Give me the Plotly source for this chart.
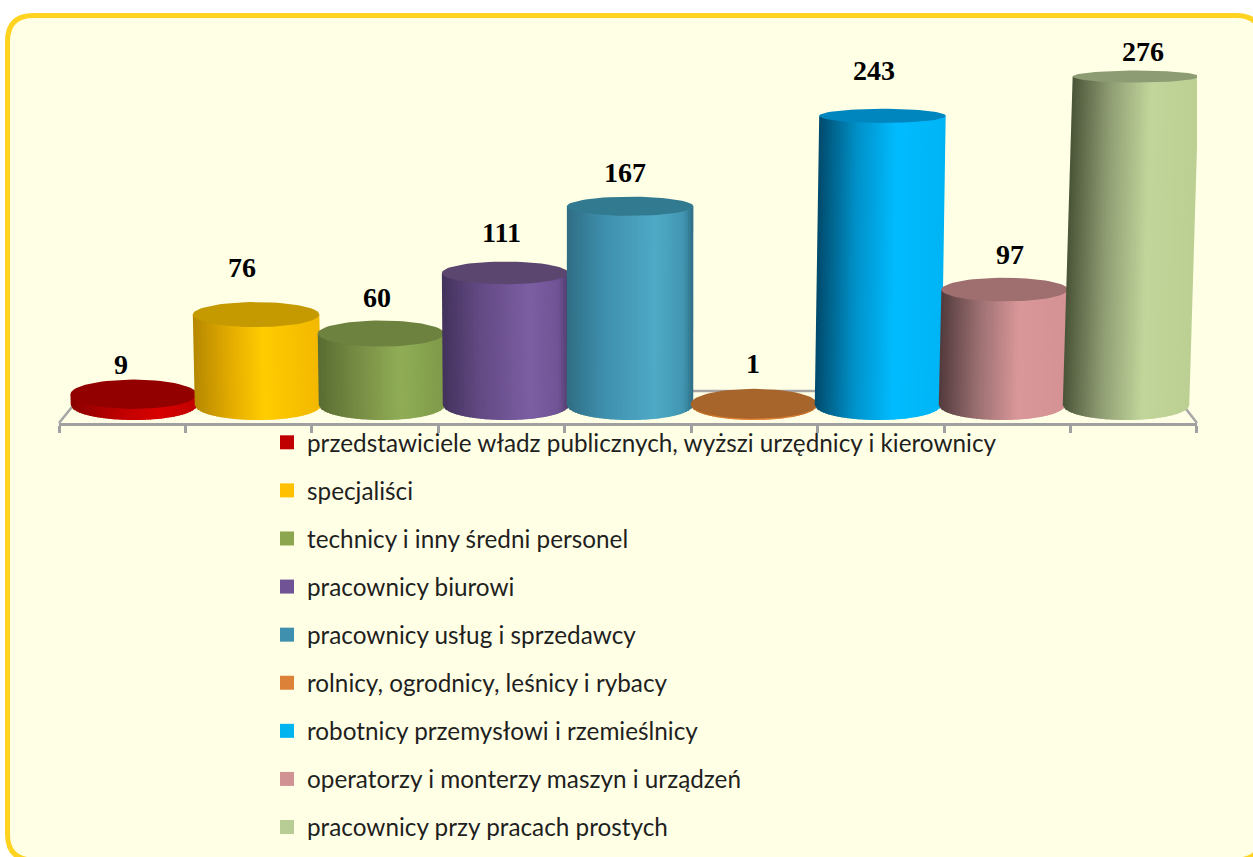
import math
import plotly.graph_objects as go

categories = [
    "przedstawiciele władz publicznych, wyższi urzędnicy i kierownicy",
    "specjaliści",
    "technicy i inny średni personel",
    "pracownicy biurowi",
    "pracownicy usług i sprzedawcy",
    "rolnicy, ogrodnicy, leśnicy i rybacy",
    "robotnicy przemysłowi i rzemieślnicy",
    "operatorzy i monterzy maszyn i urządzeń",
    "pracownicy przy pracach prostych",
]
values = [9, 76, 60, 111, 167, 1, 243, 97, 276]

legend_colors = ["#C00000", "#FFC000", "#8CA64F", "#6F5394", "#3F90AE", "#DB8238", "#00B4F0", "#D19294", "#B8CD96"]
cap_colors = ["#930000", "#C49A00", "#6E8240", "#5B4670", "#327A90", "#A8652B", "#0086BF", "#9F6F70", "#8D9C72"]
# gradient stops (position, colour) across each cylinder
gradients = [
    [(0, "#8A0000"), (.4, "#C00000"), (.7, "#D80000"), (1, "#C00000")],
    [(0, "#B58800"), (.3, "#E5AD00"), (.55, "#FFCC00"), (1, "#F2B800")],
    [(0, "#596C32"), (.35, "#7A9046"), (.65, "#90AD56"), (1, "#7E9A49")],
    [(0, "#43325C"), (.3, "#634A84"), (.7, "#7C5EA3"), (.92, "#6F5394"), (1, "#4F3B6B")],
    [(0, "#2F6D84"), (.3, "#3F90AE"), (.7, "#4EAAC6"), (.92, "#4296B2"), (1, "#2F6D84")],
    [(0, "#C06A20"), (.5, "#E8883A"), (1, "#C87428")],
    [(0, "#004A6B"), (.3, "#0090C8"), (.62, "#00BCFF"), (1, "#00B4F4")],
    [(0, "#523A3C"), (.3, "#9A6F71"), (.62, "#DA9799"), (1, "#D49294")],
    [(0, "#4A5438"), (.3, "#8F9D73"), (.62, "#C1D59A"), (1, "#BCD094")],
]
label_shift = [(-13, 30), (-14, 47), (-4, 36), (-4, 40), (-5, 34), (-1, 40), (-8, 45), (5, 35), (7, 25)]

W, H = 1253, 857
L, R, T, B = 59, 1197, 21, 423
PX_PER_UNIT = 1.19
BAR_STEP = 124
BAR0 = 134
RADIUS = 0.51
STRIPS = 48
BASE_HALF = 15 / PX_PER_UNIT


def x_data(px):
    return (px - BAR0) / BAR_STEP


def px_paper(px, py):
    return (px - L) / (R - L), (B - py) / (B - T)


def hex_rgb(c):
    return [int(c[i:i + 2], 16) for i in (1, 3, 5)]


def shade(stops, u):
    for (p0, c0), (p1, c1) in zip(stops, stops[1:]):
        if u <= p1:
            t = (u - p0) / (p1 - p0)
            a, b = hex_rgb(c0), hex_rgb(c1)
            return "rgb(%d,%d,%d)" % tuple(round(x + (y - x) * t) for x, y in zip(a, b))
    return stops[-1][1]


fig = go.Figure()

for i, (v, stops, cap) in enumerate(zip(values, gradients, cap_colors)):
    lean = 7.08e-5 * (i - 3.92) * v
    top_half = (15 - 9 * v / 276) / PX_PER_UNIT
    for s in range(STRIPS):
        u0, u1 = s / STRIPS, min(1, (s + 1.6) / STRIPS)
        xs, ys = [], []
        for u in (u0, (u0 + u1) / 2, u1):
            xs.append(i + RADIUS * (2 * u - 1))
            ys.append(-BASE_HALF * math.sqrt(max(0, 1 - (2 * u - 1) ** 2)))
        xs += [i + lean + RADIUS * (2 * u1 - 1), i + lean + RADIUS * (2 * u0 - 1), xs[0]]
        ys += [v, v, ys[0]]
        fig.add_trace(go.Scatter(x=xs, y=ys, mode="lines", line=dict(width=0), fill="toself",
                                 fillcolor=shade(stops, (s + 0.5) / STRIPS),
                                 hoverinfo="skip", showlegend=False))
    n = 72
    ang = [2 * math.pi * k / n for k in range(n + 1)]
    fig.add_trace(go.Scatter(x=[i + lean + RADIUS * math.cos(a) for a in ang],
                             y=[v + top_half * math.sin(a) for a in ang],
                             mode="lines", line=dict(width=0), fill="toself", fillcolor=cap,
                             hoverinfo="skip", showlegend=False))
    fig.add_annotation(x=i + lean, y=v, text="<b>%d</b>" % v, showarrow=False,
                       xshift=label_shift[i][0], yshift=label_shift[i][1],
                       font=dict(family="Liberation Serif", size=28, color="#000000"))

for name, color in zip(categories, legend_colors):
    fig.add_trace(go.Scatter(x=[None], y=[None], mode="markers", name=name, legendgroup=name,
                             marker=dict(symbol="square", size=14, color=color)))

# frame
x0, y0, x1, y1, r = 7.5, 15.5, 1262, 860, 26
def P(px, py):
    a, b = px_paper(px, py)
    return "%.5f,%.5f" % (a, b)
frame = ("M" + P(x0 + r, y0) + " L" + P(x1 - r, y0) + " Q" + P(x1, y0) + " " + P(x1, y0 + r) +
         " L" + P(x1, y1 - r) + " Q" + P(x1, y1) + " " + P(x1 - r, y1) +
         " L" + P(x0 + r, y1) + " Q" + P(x0, y1) + " " + P(x0, y1 - r) +
         " L" + P(x0, y0 + r) + " Q" + P(x0, y0) + " " + P(x0 + r, y0) + " Z")
shapes = [dict(type="path", xref="paper", yref="paper", path=frame, fillcolor="#FFFFE6",
               line=dict(color="#FFD320", width=5), layer="below")]
# floor outline
floor = "M" + P(59, 423) + " L" + P(85, 391) + " L" + P(1172, 391) + " L" + P(1197, 423)
shapes.append(dict(type="path", xref="paper", yref="paper", path=floor,
                   line=dict(color="#A6A6A6", width=2.5), layer="below"))

fig.update_layout(
    width=W, height=H, autosize=False,
    margin=dict(l=L, r=W - R, t=T, b=H - B, pad=0, autoexpand=False),
    paper_bgcolor="#FFFFFF", plot_bgcolor="rgba(0,0,0,0)",
    shapes=shapes, showlegend=True,
    legend=dict(x=(272 - L) / (R - L), xanchor="left", y=(B - 420) / (B - T), yanchor="top",
                tracegroupgap=13.5, traceorder="grouped", bgcolor="rgba(0,0,0,0)", indentation=-5,
                maxheight=850,
                font=dict(family="Lato", size=24.3, color="#1F1F1F"), itemclick=False, itemdoubleclick=False),
    xaxis=dict(range=[x_data(L), x_data(R)], showgrid=False, zeroline=False, showticklabels=False,
               showline=True, linecolor="#A0A0A0", linewidth=3,
               tickmode="array", tickvals=[x_data(59 + 126.44 * j) for j in range(10)],
               ticks="outside", ticklen=7, tickwidth=3, tickcolor="#A0A0A0"),
    yaxis=dict(range=[(405 - B) / PX_PER_UNIT, (405 - T) / PX_PER_UNIT], visible=False),
)

fig.write_html("out.html", config={"displayModeBar": False},
               post_script="document.body.style.margin='0';document.documentElement.style.overflow='hidden';")
